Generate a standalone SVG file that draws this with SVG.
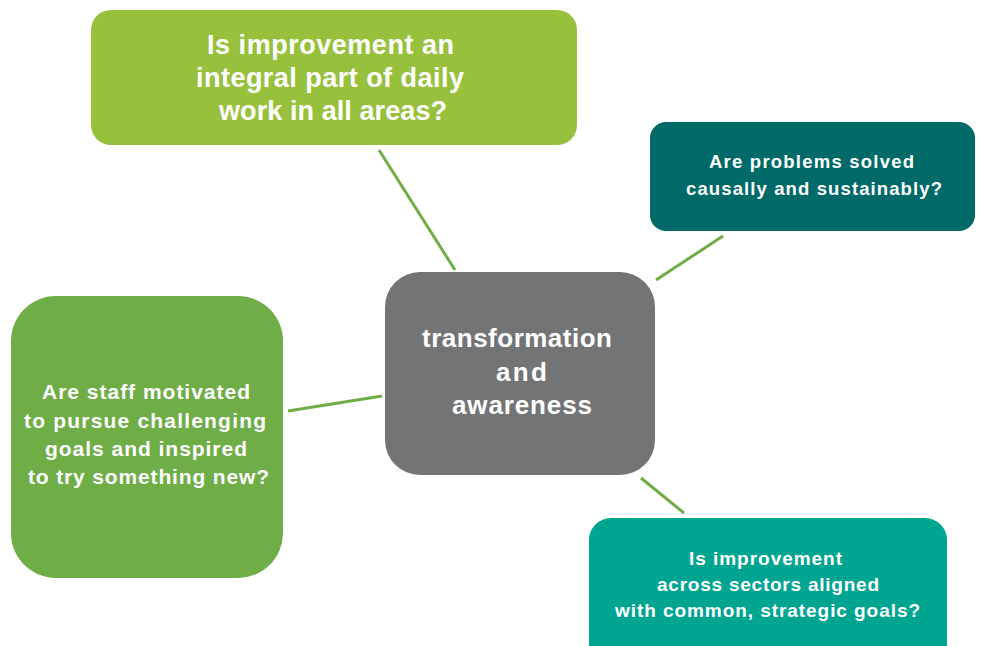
<svg xmlns="http://www.w3.org/2000/svg" width="981" height="646" viewBox="0 0 981 646">
<style>
.t{font-family:"Liberation Sans","DejaVu Sans",Arial,sans-serif;font-weight:bold;fill:#ffffff;text-anchor:middle}
.c{stroke:#70ad47;stroke-width:3;fill:none}
</style>
<rect width="981" height="646" fill="#ffffff"/>
<g id="connectors">
<line class="c" x1="379" y1="150" x2="455" y2="270"/>
<line class="c" x1="656" y1="280" x2="723" y2="236"/>
<line class="c" x1="288" y1="411" x2="382" y2="396"/>
<line class="c" x1="641" y1="478" x2="684" y2="513"/>
</g>
<g id="top">
<rect x="91" y="10" width="486" height="135" rx="20" fill="#97c13c"/>
<text class="t" font-size="27"><tspan x="330.5" y="54" textLength="247" lengthAdjust="spacing">Is improvement an</tspan><tspan x="330" y="87" textLength="268" lengthAdjust="spacing">integral part of daily</tspan><tspan x="333" y="120" textLength="228" lengthAdjust="spacing">work in all areas?</tspan></text>
</g>
<g id="problems">
<rect x="650" y="122" width="325" height="109" rx="16" fill="#006a68"/>
<text class="t" font-size="18.5"><tspan x="811.5" y="168" textLength="205" lengthAdjust="spacing">Are problems solved</tspan><tspan x="814" y="195" textLength="256" lengthAdjust="spacing">causally and sustainably?</tspan></text>
</g>
<g id="staff">
<rect x="11" y="296" width="272" height="282" rx="45" fill="#6fad47"/>
<text class="t" font-size="21"><tspan x="146" y="399" textLength="208" lengthAdjust="spacing">Are staff motivated</tspan><tspan x="145" y="428" textLength="242" lengthAdjust="spacing">to pursue challenging</tspan><tspan x="146" y="456" textLength="202" lengthAdjust="spacing">goals and inspired</tspan><tspan x="148.5" y="484" textLength="241" lengthAdjust="spacing">to try something new?</tspan></text>
</g>
<g id="center">
<rect x="385" y="272" width="270" height="203" rx="35" fill="#727476"/>
<text class="t" font-size="26"><tspan x="517" y="347" textLength="190" lengthAdjust="spacing">transformation</tspan><tspan x="521.5" y="381" textLength="51" lengthAdjust="spacing">and</tspan><tspan x="522" y="414" textLength="140" lengthAdjust="spacing">awareness</tspan></text>
</g>
<g id="sectors">
<rect x="589" y="518" width="358" height="150" rx="22" fill="#00a592"/>
<text class="t" font-size="19"><tspan x="765.5" y="565" textLength="153" lengthAdjust="spacing">Is improvement</tspan><tspan x="768" y="591" textLength="222" lengthAdjust="spacing">across sectors aligned</tspan><tspan x="767.5" y="617" textLength="305" lengthAdjust="spacing">with common, strategic goals?</tspan></text>
</g>
</svg>
